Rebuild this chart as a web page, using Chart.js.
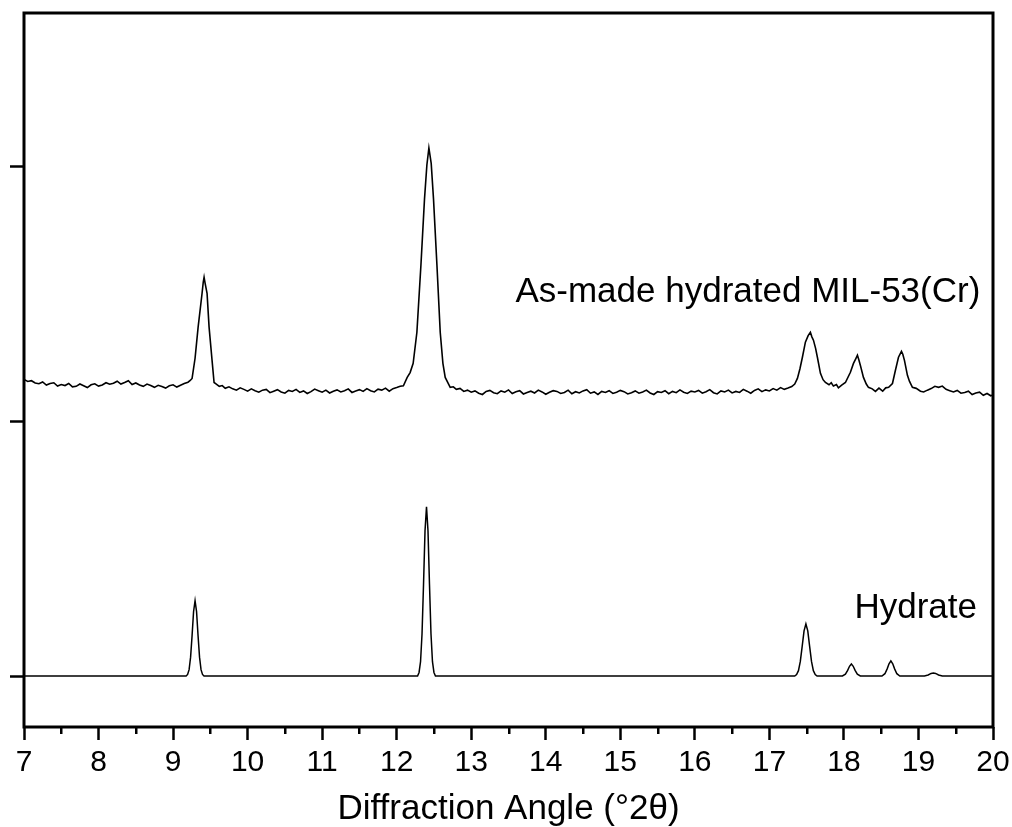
<!DOCTYPE html>
<html>
<head>
<meta charset="utf-8">
<script src="https://cdn.jsdelivr.net/npm/chart.js@4.4.1/dist/chart.umd.min.js"></script>
<style>
html,body{margin:0;padding:0;background:#fff;}
#wrap{width:1012px;height:827px;}
</style>
</head>
<body>
<div id="wrap"><canvas id="c" width="1012" height="827"></canvas></div>
<script>
// ---------- data ----------
const xMajorTicks = [7,8,9,10,11,12,13,14,15,16,17,18,19,20];
const xMinorTicks = [7.5,8.5,9.5,10.5,11.5,12.5,13.5,14.5,15.5,16.5,17.5,18.5,19.5];
const yTicks = [0,1000,2000];

const seriesNames = ['As-made hydrated MIL-53(Cr)', 'Hydrate'];

// As-made hydrated MIL-53(Cr): [2theta, intensity (a.u.)]
const asMade = [
[7.00,1163],[7.05,1155],[7.10,1158],[7.15,1149],[7.20,1146],[7.25,1153],[7.30,1141],[7.35,1147],[7.40,1150],[7.45,1137],
[7.50,1143],[7.55,1139],[7.60,1147],[7.65,1134],[7.70,1136],[7.75,1145],[7.80,1138],[7.85,1131],[7.90,1142],[7.95,1146],
[8.00,1137],[8.05,1141],[8.10,1150],[8.15,1144],[8.20,1148],[8.25,1156],[8.30,1145],[8.35,1151],[8.40,1158],[8.45,1143],
[8.50,1149],[8.55,1141],[8.60,1136],[8.65,1145],[8.70,1139],[8.75,1132],[8.80,1140],[8.85,1135],[8.90,1129],[8.95,1138],
[9.00,1142],[9.05,1133],[9.10,1140],[9.15,1147],[9.20,1152],[9.23,1159],[9.255,1167],[9.295,1246],[9.336,1368],[9.389,1501],
[9.405,1545],[9.416,1564],[9.43,1540],[9.456,1501],[9.483,1368],[9.523,1238],[9.55,1151],[9.58,1145],[9.62,1136],[9.66,1139],
[9.70,1128],[9.75,1134],[9.80,1126],[9.85,1121],[9.90,1130],[9.95,1124],[10.00,1117],[10.05,1126],[10.10,1119],[10.15,1113],
[10.20,1121],[10.25,1124],[10.30,1111],[10.35,1117],[10.40,1123],[10.45,1114],[10.50,1109],[10.55,1120],[10.60,1116],[10.65,1124],
[10.70,1112],[10.75,1118],[10.80,1108],[10.85,1115],[10.90,1125],[10.95,1119],[11.00,1113],[11.05,1121],[11.10,1110],[11.15,1117],
[11.20,1122],[11.25,1114],[11.30,1119],[11.35,1126],[11.40,1112],[11.45,1118],[11.50,1123],[11.55,1116],[11.60,1127],[11.65,1119],
[11.70,1114],[11.75,1125],[11.80,1121],[11.85,1129],[11.90,1117],[11.95,1127],[12.00,1131],[12.047,1136],[12.09,1138],[12.141,1171],
[12.18,1190],[12.221,1226],[12.271,1348],[12.325,1611],[12.373,1870],[12.405,2004],[12.432,2071],[12.448,2040],[12.463,2010],[12.494,1870],
[12.540,1611],[12.584,1348],[12.620,1226],[12.651,1171],[12.718,1132],[12.76,1134],[12.80,1124],[12.85,1128],[12.90,1116],[12.95,1121],
[13.00,1113],[13.05,1118],[13.10,1109],[13.15,1104],[13.20,1116],[13.25,1120],[13.30,1111],[13.35,1107],[13.40,1118],[13.45,1113],
[13.50,1122],[13.55,1108],[13.60,1115],[13.65,1119],[13.70,1106],[13.75,1112],[13.80,1117],[13.85,1110],[13.90,1121],[13.95,1114],
[14.00,1105],[14.05,1113],[14.10,1119],[14.15,1116],[14.20,1108],[14.25,1112],[14.30,1121],[14.35,1107],[14.40,1115],[14.45,1110],
[14.50,1118],[14.55,1123],[14.60,1109],[14.65,1114],[14.70,1104],[14.75,1116],[14.80,1112],[14.85,1119],[14.90,1108],[14.95,1113],
[15.00,1120],[15.05,1115],[15.10,1106],[15.15,1111],[15.20,1118],[15.25,1109],[15.30,1114],[15.35,1121],[15.40,1110],[15.45,1104],
[15.50,1115],[15.55,1112],[15.60,1119],[15.65,1107],[15.70,1116],[15.75,1111],[15.80,1122],[15.85,1113],[15.90,1108],[15.95,1117],
[16.00,1114],[16.05,1120],[16.10,1109],[16.15,1115],[16.20,1123],[16.25,1111],[16.30,1106],[16.35,1118],[16.40,1114],[16.45,1121],
[16.50,1110],[16.55,1116],[16.60,1112],[16.65,1124],[16.70,1117],[16.75,1109],[16.80,1120],[16.85,1126],[16.90,1115],[16.95,1122],
[17.00,1118],[17.05,1127],[17.10,1121],[17.15,1131],[17.20,1124],[17.25,1129],[17.30,1135],[17.34,1145],[17.376,1167],[17.41,1205],
[17.443,1250],[17.483,1309],[17.52,1335],[17.550,1348],[17.57,1330],[17.591,1317],[17.62,1285],[17.644,1250],[17.685,1187],[17.72,1162],
[17.752,1151],[17.80,1142],[17.83,1150],[17.859,1137],[17.90,1143],[17.926,1130],[17.97,1141],[18.02,1151],[18.087,1191],[18.128,1226],[18.16,1245],
[18.181,1258],[18.20,1240],[18.221,1218],[18.262,1171],[18.30,1145],[18.329,1132],[18.38,1126],[18.423,1116],[18.47,1129],[18.52,1117],
[18.56,1130],[18.60,1132],[18.651,1147],[18.691,1199],[18.732,1250],[18.772,1273],[18.79,1262],[18.812,1238],[18.852,1179],[18.88,1155],
[18.919,1132],[18.97,1128],[19.027,1117],[19.07,1114],[19.12,1121],[19.17,1127],[19.22,1136],[19.27,1132],[19.32,1137],[19.37,1124],
[19.42,1119],[19.47,1114],[19.52,1120],[19.57,1109],[19.62,1112],[19.67,1117],[19.72,1104],[19.77,1110],[19.82,1113],[19.87,1101],
[19.92,1108],[19.97,1099],[20.00,1102]
];

// Hydrate (simulated): [2theta, intensity (a.u.)]
const hydrate = [
[7.00,0],[9.175,0],[9.195,6],[9.215,25],[9.235,74],[9.255,159],[9.275,253],[9.295,295],[9.315,253],[9.335,159],[9.355,74],[9.375,25],[9.395,6],[9.415,0],
[12.28,0],[12.30,14],[12.32,56],[12.34,166],[12.36,359],[12.38,569],[12.40,664],[12.42,569],[12.44,359],[12.46,166],[12.48,56],[12.50,14],[12.52,0],
[17.34,0],[17.365,6],[17.39,21],[17.415,57],[17.44,116],[17.465,177],[17.49,204],[17.515,177],[17.54,116],[17.565,57],[17.59,21],[17.615,6],[17.64,0],
[17.98,0],[18.02,7],[18.05,22],[18.075,38],[18.10,47],[18.125,38],[18.15,22],[18.18,7],[18.22,0],
[18.51,0],[18.55,9],[18.58,28],[18.605,48],[18.63,59],[18.655,48],[18.68,28],[18.71,9],[18.75,0],
[19.08,0],[19.13,4],[19.17,10],[19.20,12],[19.23,10],[19.27,4],[19.32,0],[20.00,0]
];

// label anchor positions (data coordinates, right-aligned baseline)
const labelAnchors = [[19.83,1466],[19.785,228]];

// ---------- chart ----------
const FONT = "'Liberation Sans', Arial, sans-serif";

const framePlugin = {
  id: 'frame',
  afterDraw(chart) {
    const {ctx, chartArea: a, scales: {x, y}} = chart;
    ctx.save();
    // minor ticks on x
    ctx.strokeStyle = '#000';
    ctx.lineWidth = 2.5;
    ctx.beginPath();
    xMinorTicks.forEach(v => {
      const px = Math.round(x.getPixelForValue(v)) + 0.25;
      ctx.moveTo(px, a.bottom);
      ctx.lineTo(px, a.bottom + 7);
    });
    ctx.stroke();
    // frame box
    ctx.lineWidth = 3;
    ctx.strokeRect(a.left, a.top, a.right - a.left, a.bottom - a.top);
    // series labels
    ctx.fillStyle = '#000';
    ctx.font = '35px ' + FONT;
    ctx.textAlign = 'right';
    ctx.textBaseline = 'alphabetic';
    seriesNames.forEach((t, i) => {
      const [lx, ly] = labelAnchors[i];
      ctx.fillText(t, x.getPixelForValue(lx), y.getPixelForValue(ly));
    });
    ctx.restore();
  }
};

new Chart(document.getElementById('c'), {
  type: 'line',
  data: {
    datasets: [
      {
        label: seriesNames[0],
        data: asMade.map(p => ({x: p[0], y: p[1]})),
        borderColor: '#000', borderWidth: 1.6, pointRadius: 0, tension: 0, fill: false
      },
      {
        label: seriesNames[1],
        data: hydrate.map(p => ({x: p[0], y: p[1]})),
        borderColor: '#000', borderWidth: 1.5, pointRadius: 0, tension: 0, fill: false
      }
    ]
  },
  options: {
    responsive: false,
    devicePixelRatio: 1,
    animation: false,
    events: [],
    layout: { padding: { left: 10, right: 19, top: 13, bottom: 0 } },
    plugins: { legend: { display: false }, tooltip: { enabled: false } },
    scales: {
      x: {
        type: 'linear',
        min: 7, max: 20,
        afterBuildTicks: s => { s.ticks = xMajorTicks.map(v => ({value: v})); },
        afterFit: s => { s.paddingLeft = 0; s.paddingRight = 0; },
        ticks: {
          color: '#000', font: { family: FONT, size: 30 }, padding: 5,
          maxRotation: 0, autoSkip: false
        },
        grid: { drawOnChartArea: false, drawTicks: true, tickLength: 13, tickWidth: 2.5, tickColor: '#000' },
        border: { display: false },
        title: {
          display: true, text: 'Diffraction Angle (°2θ)', color: '#000',
          font: { family: FONT, size: 35, lineHeight: 1.0 },
          padding: { top: 6, bottom: 0 }
        }
      },
      y: {
        type: 'linear',
        min: -200, max: 2600,
        afterBuildTicks: s => { s.ticks = yTicks.map(v => ({value: v})); },
        ticks: { display: false },
        grid: { drawOnChartArea: false, drawTicks: true, tickLength: 14, tickWidth: 2.5, tickColor: '#000' },
        border: { display: false }
      }
    }
  },
  plugins: [framePlugin]
});
</script>
</body>
</html>
